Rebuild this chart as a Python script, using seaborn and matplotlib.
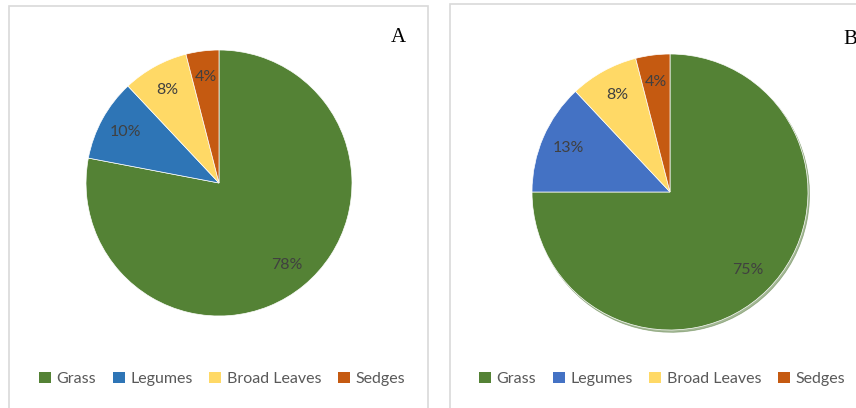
import matplotlib
matplotlib.use("Agg")
import matplotlib.pyplot as plt
import seaborn as sns
from matplotlib.patches import Rectangle, Patch

# Data
categories = ["Grass", "Legumes", "Broad Leaves", "Sedges"]
values_a = [78, 10, 8, 4]
values_b = [75, 13, 8, 4]
colors_a = ["#548235", "#2E75B6", "#FFD966", "#C55A11"]
colors_b = ["#548235", "#4472C4", "#FFD966", "#C55A11"]
panel_labels = ["A", "B"]

sns.set_theme(style="white")
plt.rcParams['font.family'] = ['Lato', 'DejaVu Sans']

W, H = 856, 408
fig = plt.figure(figsize=(W / 100, H / 100), dpi=100)
fig.patch.set_facecolor("white")


def px_axes(cx, cy, r):
    # axes box from pixel centre / radius
    return fig.add_axes([(cx - r) / W, (H - cy - r) / H, 2 * r / W, 2 * r / H])


def px(x, y):
    return x / W, 1 - y / H


# panel frames
fig.patches.append(Rectangle(px(9, 420), (428 - 9) / W, (420 - 6) / H,
                             transform=fig.transFigure, fill=False,
                             edgecolor="#d9d9d9", linewidth=1.2))
fig.patches.append(Rectangle(px(450, 420), (870 - 450) / W, (420 - 4) / H,
                             transform=fig.transFigure, fill=False,
                             edgecolor="#d9d9d9", linewidth=1.2))

panels = [
    (values_a, colors_a, (219, 183, 133), (398, 38), (222, 379), False),
    (values_b, colors_b, (670, 192, 138), (850, 40), (662, 379), True),
]

for (vals, cols, (cx, cy, r), (lx, ly), (gx, gy), shade), lab in zip(panels, panel_labels):
    ax = px_axes(cx, cy, r)
    shadow = {'ox': 0.008, 'oy': -0.012, 'shade': 0.12} if shade else False
    wedges, texts, autotexts = ax.pie(
        vals, colors=cols, startangle=90, counterclock=False,
        autopct='%1.0f%%', pctdistance=0.8, radius=1,
        wedgeprops=dict(edgecolor="white", linewidth=0.5),
        textprops=dict(color="#404040", fontsize=11.5), shadow=shadow)
    ax.set_xlim(-1, 1)
    ax.set_ylim(-1, 1)
    ax.set_aspect("equal")
    ax.axis("off")

    fx, fy = px(lx, ly)
    fig.text(fx, fy, lab, ha="center", va="center", fontsize=15,
             family="Liberation Serif", color="black")

    handles = [Patch(facecolor=c, edgecolor="none") for c in cols]
    fx, fy = px(gx, gy)
    fig.legend(handles, categories, loc="center", bbox_to_anchor=(fx, fy),
               ncol=4, frameon=False, fontsize=11.5, handlelength=0.75,
               handleheight=0.75, handletextpad=0.35, columnspacing=1.05,
               labelcolor="#595959")

fig.savefig("out.png", dpi=100, facecolor="white")
